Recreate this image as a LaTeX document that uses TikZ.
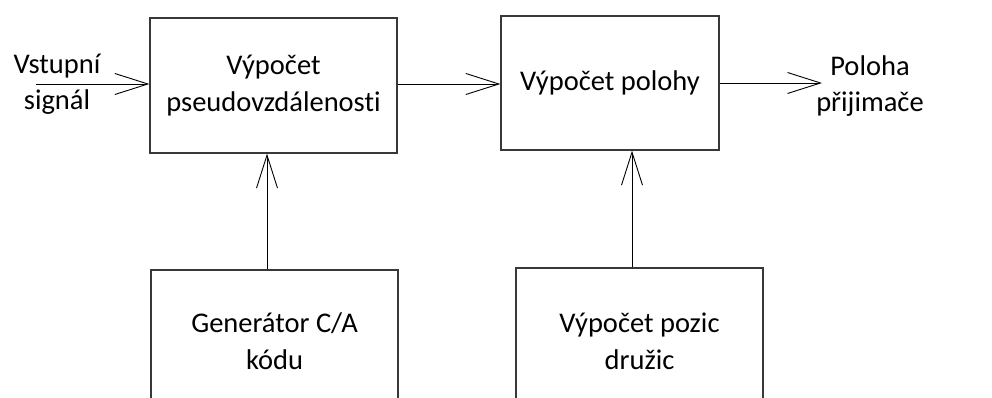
\documentclass[tikz,border=0pt]{standalone}
\usepackage{fontspec}
\setmainfont{Carlito}[Ligatures={NoCommon}]
\usetikzlibrary{arrows.meta}
\begin{document}
\begin{tikzpicture}[x=1pt,y=-1pt,
  blk/.style={draw=black!78,line width=1.3pt,inner sep=0pt,align=center,
    font=\fontsize{28.5}{37}\selectfont},
  lbl/.style={inner sep=0pt,align=center,font=\fontsize{28.5}{36}\selectfont},
  arr/.style={draw=black,line width=0.9pt,-{Straight Barb[length=33pt,width=21pt,line width=0.9pt]}}]
\useasboundingbox (0,0) rectangle (992,398);
\clip (0,0) rectangle (992,398);
\node[blk,minimum width=247pt,minimum height=135pt] (pseudo) at (273.5,85.5) {Výpočet\\pseudovzdálenosti};
\node[blk,minimum width=218pt,minimum height=134pt] (poloha) at (610,83) {Výpočet polohy};
\node[blk,minimum width=247pt,minimum height=142pt] (gen) at (274.5,341) {Generátor C/A\\kódu};
\node[blk,minimum width=247pt,minimum height=146pt] (druz) at (639.5,341) {Výpočet pozic\\družic};
\node[lbl] (vstup) at (57,84) {Vstupní\\signál};
\node[lbl] (vystup) at (870,86) {Poloha\\přijimače};
\coordinate (in) at (36,84);
\coordinate (out) at (822,83);
\draw[arr] (in) -- (in -| pseudo.west);
\draw[arr] (pseudo.east |- 0,84) -- (poloha.west |- 0,84);
\draw[arr] (poloha.east |- out) -- (out);
\draw[arr] ([xshift=-7.5pt]gen.north) -- ([xshift=-7.5pt]gen.north |- pseudo.south);
\draw[arr] ([xshift=-7.5pt]druz.north) -- ([xshift=-7.5pt]druz.north |- poloha.south);
\end{tikzpicture}
\end{document}
